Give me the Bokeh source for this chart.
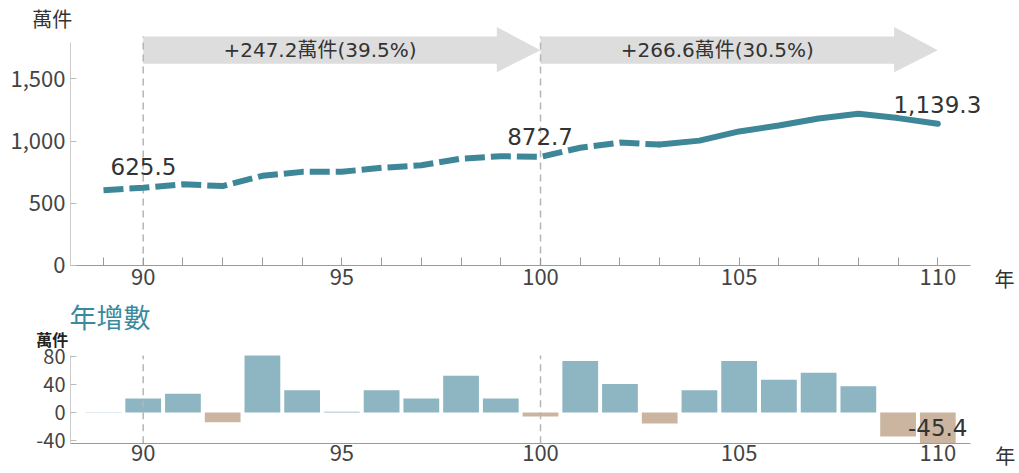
from bokeh.plotting import figure
from bokeh.models import Range1d, FixedTicker, ColumnDataSource, NumeralTickFormatter
from bokeh.layouts import column
from bokeh.embed import file_html
from bokeh.resources import INLINE
from bokeh.core.properties import value

# ---------------- data ----------------
years = list(range(89, 111))
total = [605.5, 625.5, 652.5, 638.5, 720.5, 752.5, 753.5, 785.5, 805.5, 858.5, 878.5,
         872.7, 946.7, 987.7, 971.7, 1003.7, 1077.7, 1124.7, 1181.7, 1219.3, 1184.7, 1139.3]
increase = [0.5, 20, 27, -14, 82, 32, 1, 32, 20, 53, 20,
            -5.8, 74, 41, -16, 32, 74, 47, 57, 37.6, -34.6, -45.4]
dash_until = 103          # line dashed up to this year, solid afterwards
x_tick_labels = [90, 95, 100, 105, 110]
top_y_ticks = [0, 500, 1000, 1500]
bottom_y_ticks = [-40, 0, 40, 80]
period_start = [90, 100]
period_end = [100, 110]
period_text = ["+247.2萬件(39.5%)", "+266.6萬件(30.5%)"]
labelled_years = [90, 100, 110]
labelled_bar_year = 110
unit_text = "萬件"
year_text = "年"
bottom_title = "年增數"

# ---------------- style / layout ----------------
CJK = "Noto Sans CJK TC"
NUM = "DejaVu Sans"
MIX = "DejaVu Sans, Noto Sans CJK TC"
TEAL = "#3d8799"
POS = "#8db5c2"
NEG = "#cbb5a0"
ARROW = "#dddddd"
TXT = "#333333"
TICK_TXT = "#444444"
AX = "#9a9a9a"
VLINE = "#b5b5b5"

W = 1019
H1, H2 = 295, 178
XS, XE = 86.408, 112.056           # full-canvas x range
AX_X0, AX_X1 = 88.17, 110.82       # axis extent
TOP_Y = (-241.2, 2130)
BOT_Y = (-87.8, 168.3)
BOT_AXIS_Y = -44.2


def base_fig(h, yr):
    p = figure(width=W, height=h, x_range=Range1d(XS, XE), y_range=Range1d(*yr),
               output_backend="svg", toolbar_location=None, min_border=0,
               min_border_left=0, min_border_right=0, min_border_top=0, min_border_bottom=0)
    p.outline_line_color = None
    p.grid.visible = False
    return p


def txt(p, x, y, s, font, size, color=TXT, align="left", baseline="middle", style="normal"):
    p.text(x=[x], y=[y], text=[s], text_font=value(font), text_font_size=size,
           text_color=color, text_align=align, text_baseline=baseline, text_font_style=style)


# ---------------- top figure ----------------
p1 = base_fig(H1, TOP_Y)

head = 1.1
body_lo, body_hi = 1621, 1841
head_lo, head_hi = 1553, 1917
mid = (body_lo + body_hi) / 2
axs, ays = [], []
for s, e in zip(period_start, period_end):
    axs.append([s, e - head, e - head, e, e - head, e - head, s])
    ays.append([body_hi, body_hi, head_hi, mid, head_lo, body_lo, body_lo])
p1.patches(axs, ays, fill_color=ARROW, line_color=None)
for s, e, t in zip(period_start, period_end, period_text):
    txt(p1, (s + e - head) / 2, mid, t, MIX, "20px", align="center")

p1.segment(x0=period_start, y0=0, x1=period_start, y1=body_hi,
           line_color=VLINE, line_width=1.5, line_dash="7 5")

k = years.index(dash_until)
p1.line(years[:k + 1], total[:k + 1], line_color=TEAL, line_width=6, line_dash="20 6")
p1.line(years[k:], total[k:], line_color=TEAL, line_width=6, line_cap="round", line_join="round")

offs = {90: (-0.823, 170), 100: (-0.84, 164), 110: (-1.116, 158)}
for yr in labelled_years:
    v = total[years.index(yr)]
    dx, dy = offs[yr]
    txt(p1, yr + dx, v + dy, f"{v:,.1f}", NUM, "23px")

txt(p1, AX_X0 - 0.96, 1984, unit_text, CJK, "20px")
txt(p1, AX_X1 + 0.86, -104, year_text, CJK, "20px", align="center")

p1.xaxis.fixed_location = 0
p1.xaxis.bounds = (AX_X0, AX_X1)
p1.xaxis.ticker = FixedTicker(ticks=x_tick_labels, minor_ticks=years)
p1.xaxis.major_tick_in = 0
p1.xaxis.major_tick_out = 0
p1.xaxis.minor_tick_in = 8
p1.xaxis.minor_tick_out = 0
p1.xaxis.axis_line_color = AX
p1.xaxis.minor_tick_line_color = AX
p1.xaxis.major_label_standoff = 4

p1.yaxis.fixed_location = AX_X0
p1.yaxis.ticker = FixedTicker(ticks=top_y_ticks)
p1.yaxis.formatter = NumeralTickFormatter(format="0,0")
p1.yaxis.bounds = (0, 1795)
p1.yaxis.major_tick_in = 6
p1.yaxis.major_tick_out = 0
p1.yaxis.minor_tick_line_color = None
p1.yaxis.axis_line_color = "#cccccc"
p1.yaxis.major_tick_line_color = "#bbbbbb"
p1.yaxis.major_label_standoff = 5
for ax in (p1.xaxis, p1.yaxis):
    ax.major_label_text_font = CJK
    ax.major_label_text_font_size = "22px"
    ax.major_label_text_color = TICK_TXT

# ---------------- bottom figure ----------------
p2 = base_fig(H2, BOT_Y)

src = ColumnDataSource(dict(x=years, top=increase,
                            color=[POS if v >= 0 else NEG for v in increase]))
p2.vbar(x="x", top="top", bottom=0, width=0.9, source=src, fill_color="color", line_color=None)
p2.segment(x0=period_start, y0=BOT_AXIS_Y, x1=period_start, y1=82,
           line_color=VLINE, line_width=1.5, line_dash="7 5")

bv = increase[years.index(labelled_bar_year)]
txt(p2, labelled_bar_year + 0.747, bv + 24.2, f"{bv:.1f}", NUM, "23px", align="right")

txt(p2, AX_X0 - 0.025, 137.4, bottom_title, CJK, "27px", color="#3a8a9e")
txt(p2, AX_X0 - 0.86, 105, unit_text, CJK, "16px", color="#222222", style="bold")
txt(p2, AX_X1 + 0.88, -62, year_text, CJK, "20px", align="center")

p2.xaxis.fixed_location = BOT_AXIS_Y
p2.xaxis.bounds = (AX_X0, AX_X1)
p2.xaxis.ticker = FixedTicker(ticks=x_tick_labels)
p2.xaxis.major_tick_in = 0
p2.xaxis.major_tick_out = 0
p2.xaxis.minor_tick_line_color = None
p2.xaxis.axis_line_color = AX
p2.xaxis.major_label_standoff = 2

p2.yaxis.fixed_location = AX_X0
p2.yaxis.ticker = FixedTicker(ticks=bottom_y_ticks)
p2.yaxis.major_label_overrides = {t: f"{t}" for t in bottom_y_ticks}
p2.yaxis.bounds = (BOT_AXIS_Y, 82)
p2.yaxis.major_tick_in = 6
p2.yaxis.major_tick_out = 0
p2.yaxis.minor_tick_line_color = None
p2.yaxis.axis_line_color = "#cccccc"
p2.yaxis.major_tick_line_color = "#bbbbbb"
p2.yaxis.major_label_standoff = 5
for ax in (p2.xaxis, p2.yaxis):
    ax.major_label_text_font = CJK
    ax.major_label_text_color = TICK_TXT
p2.xaxis.major_label_text_font_size = "22px"
p2.yaxis.major_label_text_font_size = "20px"

layout = column(p1, p2, spacing=0)
open("out.html", "w").write(file_html(layout, INLINE))
